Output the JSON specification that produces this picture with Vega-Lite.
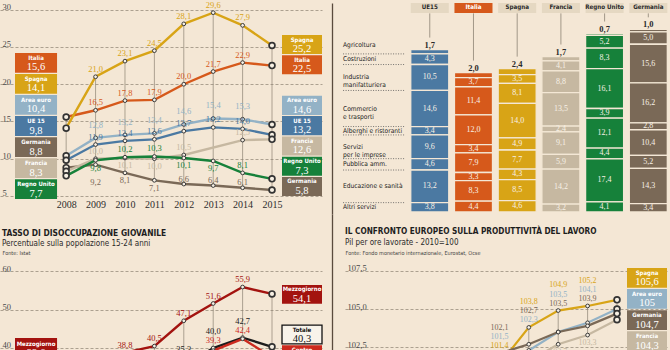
{
  "$schema": "https://vega.github.io/schema/vega-lite/v6.json",
  "background": "#f4e7d5",
  "padding": 0,
  "spacing": 0,
  "config": {
    "view": {"stroke": null},
    "locale": {"number": {"decimal": ",", "thousands": ".", "grouping": [3], "currency": ["", " €"]}},
    "text": {"font": "Liberation Serif"}
  },
  "datasets": {
    "disocc": [
      {"serie": "Italia", "anno": 2008, "v": 15.6}, {"serie": "Italia", "anno": 2009, "v": 16.5}, {"serie": "Italia", "anno": 2010, "v": 17.8}, {"serie": "Italia", "anno": 2011, "v": 17.9}, {"serie": "Italia", "anno": 2012, "v": 20.0}, {"serie": "Italia", "anno": 2013, "v": 21.7}, {"serie": "Italia", "anno": 2014, "v": 22.9}, {"serie": "Italia", "anno": 2015, "v": 22.5},
      {"serie": "Spagna", "anno": 2008, "v": 14.1}, {"serie": "Spagna", "anno": 2009, "v": 21.0}, {"serie": "Spagna", "anno": 2010, "v": 23.1}, {"serie": "Spagna", "anno": 2011, "v": 24.5}, {"serie": "Spagna", "anno": 2012, "v": 28.1}, {"serie": "Spagna", "anno": 2013, "v": 29.6}, {"serie": "Spagna", "anno": 2014, "v": 27.9}, {"serie": "Spagna", "anno": 2015, "v": 25.2},
      {"serie": "Area euro", "anno": 2008, "v": 10.4}, {"serie": "Area euro", "anno": 2009, "v": 12.8}, {"serie": "Area euro", "anno": 2010, "v": 13.2}, {"serie": "Area euro", "anno": 2011, "v": 13.4}, {"serie": "Area euro", "anno": 2012, "v": 14.6}, {"serie": "Area euro", "anno": 2013, "v": 15.4}, {"serie": "Area euro", "anno": 2014, "v": 15.3}, {"serie": "Area euro", "anno": 2015, "v": 14.6},
      {"serie": "UE 15", "anno": 2008, "v": 9.8}, {"serie": "UE 15", "anno": 2009, "v": 11.9}, {"serie": "UE 15", "anno": 2010, "v": 12.4}, {"serie": "UE 15", "anno": 2011, "v": 12.6}, {"serie": "UE 15", "anno": 2012, "v": 13.7}, {"serie": "UE 15", "anno": 2013, "v": 14.2}, {"serie": "UE 15", "anno": 2014, "v": 14.0}, {"serie": "UE 15", "anno": 2015, "v": 13.2},
      {"serie": "Germania", "anno": 2008, "v": 8.8}, {"serie": "Germania", "anno": 2009, "v": 9.2}, {"serie": "Germania", "anno": 2010, "v": 8.1}, {"serie": "Germania", "anno": 2011, "v": 7.1}, {"serie": "Germania", "anno": 2012, "v": 6.6}, {"serie": "Germania", "anno": 2013, "v": 6.4}, {"serie": "Germania", "anno": 2014, "v": 6.1}, {"serie": "Germania", "anno": 2015, "v": 5.8},
      {"serie": "Francia", "anno": 2008, "v": 8.3}, {"serie": "Francia", "anno": 2009, "v": 10.0}, {"serie": "Francia", "anno": 2010, "v": 10.1}, {"serie": "Francia", "anno": 2011, "v": 10.0}, {"serie": "Francia", "anno": 2012, "v": 10.5}, {"serie": "Francia", "anno": 2014, "v": 12.5}, {"serie": "Francia", "anno": 2015, "v": 12.6},
      {"serie": "Regno Unito", "anno": 2008, "v": 7.7}, {"serie": "Regno Unito", "anno": 2009, "v": 9.8}, {"serie": "Regno Unito", "anno": 2010, "v": 10.2}, {"serie": "Regno Unito", "anno": 2011, "v": 10.3}, {"serie": "Regno Unito", "anno": 2012, "v": 10.1}, {"serie": "Regno Unito", "anno": 2013, "v": 9.7}, {"serie": "Regno Unito", "anno": 2014, "v": 8.1}, {"serie": "Regno Unito", "anno": 2015, "v": 7.3}
    ],
    "giovani": [
      {"serie": "Mezzogiorno", "anno": 2008, "v": 33.6}, {"serie": "Mezzogiorno", "anno": 2009, "v": 36.0}, {"serie": "Mezzogiorno", "anno": 2010, "v": 38.8}, {"serie": "Mezzogiorno", "anno": 2011, "v": 40.5}, {"serie": "Mezzogiorno", "anno": 2012, "v": 47.1}, {"serie": "Mezzogiorno", "anno": 2013, "v": 51.6}, {"serie": "Mezzogiorno", "anno": 2014, "v": 55.9}, {"serie": "Mezzogiorno", "anno": 2015, "v": 54.1},
      {"serie": "Totale", "anno": 2008, "v": 21.2}, {"serie": "Totale", "anno": 2009, "v": 25.3}, {"serie": "Totale", "anno": 2010, "v": 27.9}, {"serie": "Totale", "anno": 2011, "v": 29.2}, {"serie": "Totale", "anno": 2012, "v": 35.3}, {"serie": "Totale", "anno": 2013, "v": 40.0}, {"serie": "Totale", "anno": 2014, "v": 42.7}, {"serie": "Totale", "anno": 2015, "v": 40.3},
      {"serie": "Centro", "anno": 2008, "v": 17.5}, {"serie": "Centro", "anno": 2009, "v": 21.6}, {"serie": "Centro", "anno": 2010, "v": 25.0}, {"serie": "Centro", "anno": 2011, "v": 27.0}, {"serie": "Centro", "anno": 2012, "v": 34.4}, {"serie": "Centro", "anno": 2013, "v": 39.3}, {"serie": "Centro", "anno": 2014, "v": 42.4}, {"serie": "Centro", "anno": 2015, "v": 37.6}
    ],
    "prod": [
      {"serie": "Spagna", "anno": 2010, "v": 100.0}, {"serie": "Spagna", "anno": 2011, "v": 101.4}, {"serie": "Spagna", "anno": 2012, "v": 103.8}, {"serie": "Spagna", "anno": 2013, "v": 104.9}, {"serie": "Spagna", "anno": 2014, "v": 105.2}, {"serie": "Spagna", "anno": 2015, "v": 105.6},
      {"serie": "Area euro", "anno": 2010, "v": 100.0}, {"serie": "Area euro", "anno": 2011, "v": 101.5}, {"serie": "Area euro", "anno": 2012, "v": 102.3}, {"serie": "Area euro", "anno": 2013, "v": 103.5}, {"serie": "Area euro", "anno": 2014, "v": 104.1}, {"serie": "Area euro", "anno": 2015, "v": 105.0},
      {"serie": "Germania", "anno": 2010, "v": 100.0}, {"serie": "Germania", "anno": 2011, "v": 102.1}, {"serie": "Germania", "anno": 2012, "v": 102.7}, {"serie": "Germania", "anno": 2013, "v": 103.5}, {"serie": "Germania", "anno": 2014, "v": 103.9}, {"serie": "Germania", "anno": 2015, "v": 104.7},
      {"serie": "Francia", "anno": 2010, "v": 100.0}, {"serie": "Francia", "anno": 2011, "v": 100.7}, {"serie": "Francia", "anno": 2012, "v": 101.6}, {"serie": "Francia", "anno": 2013, "v": 102.7}, {"serie": "Francia", "anno": 2014, "v": 103.3}, {"serie": "Francia", "anno": 2015, "v": 104.3}
    ],
    "settori": [
      {"serie": "UE15", "s": "Agricoltura", "k": 9, "v": 1.7}, {"serie": "UE15", "s": "Costruzioni", "k": 8, "v": 4.3}, {"serie": "UE15", "s": "Industria manifatturiera", "k": 7, "v": 10.5}, {"serie": "UE15", "s": "Commercio e trasporti", "k": 6, "v": 14.6}, {"serie": "UE15", "s": "Alberghi e ristoranti", "k": 5, "v": 3.4}, {"serie": "UE15", "s": "Servizi per le imprese", "k": 4, "v": 9.6}, {"serie": "UE15", "s": "Pubblica amm.", "k": 3, "v": 4.6}, {"serie": "UE15", "s": "Educazione e sanità", "k": 2, "v": 13.2}, {"serie": "UE15", "s": "Altri servizi", "k": 1, "v": 3.8},
      {"serie": "Italia", "s": "Agricoltura", "k": 9, "v": 2.0}, {"serie": "Italia", "s": "Costruzioni", "k": 8, "v": 3.7}, {"serie": "Italia", "s": "Industria manifatturiera", "k": 7, "v": 11.4}, {"serie": "Italia", "s": "Commercio e trasporti", "k": 6, "v": 12.0}, {"serie": "Italia", "s": "Alberghi e ristoranti", "k": 5, "v": 3.4}, {"serie": "Italia", "s": "Servizi per le imprese", "k": 4, "v": 7.9}, {"serie": "Italia", "s": "Pubblica amm.", "k": 3, "v": 3.3}, {"serie": "Italia", "s": "Educazione e sanità", "k": 2, "v": 8.3}, {"serie": "Italia", "s": "Altri servizi", "k": 1, "v": 4.4},
      {"serie": "Spagna", "s": "Agricoltura", "k": 9, "v": 2.4}, {"serie": "Spagna", "s": "Costruzioni", "k": 8, "v": 3.5}, {"serie": "Spagna", "s": "Industria manifatturiera", "k": 7, "v": 8.1}, {"serie": "Spagna", "s": "Commercio e trasporti", "k": 6, "v": 14.0}, {"serie": "Spagna", "s": "Alberghi e ristoranti", "k": 5, "v": 4.9}, {"serie": "Spagna", "s": "Servizi per le imprese", "k": 4, "v": 7.7}, {"serie": "Spagna", "s": "Pubblica amm.", "k": 3, "v": 4.3}, {"serie": "Spagna", "s": "Educazione e sanità", "k": 2, "v": 8.5}, {"serie": "Spagna", "s": "Altri servizi", "k": 1, "v": 4.6},
      {"serie": "Francia", "s": "Agricoltura", "k": 9, "v": 1.7}, {"serie": "Francia", "s": "Costruzioni", "k": 8, "v": 4.1}, {"serie": "Francia", "s": "Industria manifatturiera", "k": 7, "v": 8.8}, {"serie": "Francia", "s": "Commercio e trasporti", "k": 6, "v": 13.5}, {"serie": "Francia", "s": "Alberghi e ristoranti", "k": 5, "v": 2.4}, {"serie": "Francia", "s": "Servizi per le imprese", "k": 4, "v": 9.1}, {"serie": "Francia", "s": "Pubblica amm.", "k": 3, "v": 5.9}, {"serie": "Francia", "s": "Educazione e sanità", "k": 2, "v": 14.2}, {"serie": "Francia", "s": "Altri servizi", "k": 1, "v": 3.2},
      {"serie": "Regno Unito", "s": "Agricoltura", "k": 9, "v": 0.7}, {"serie": "Regno Unito", "s": "Costruzioni", "k": 8, "v": 5.2}, {"serie": "Regno Unito", "s": "Industria manifatturiera", "k": 7, "v": 8.3}, {"serie": "Regno Unito", "s": "Commercio e trasporti", "k": 6, "v": 16.1}, {"serie": "Regno Unito", "s": "Alberghi e ristoranti", "k": 5, "v": 3.9}, {"serie": "Regno Unito", "s": "Servizi per le imprese", "k": 4, "v": 12.1}, {"serie": "Regno Unito", "s": "Pubblica amm.", "k": 3, "v": 4.4}, {"serie": "Regno Unito", "s": "Educazione e sanità", "k": 2, "v": 17.4}, {"serie": "Regno Unito", "s": "Altri servizi", "k": 1, "v": 4.1},
      {"serie": "Germania", "s": "Agricoltura", "k": 9, "v": 1.0}, {"serie": "Germania", "s": "Costruzioni", "k": 8, "v": 5.0}, {"serie": "Germania", "s": "Industria manifatturiera", "k": 7, "v": 15.6}, {"serie": "Germania", "s": "Commercio e trasporti", "k": 6, "v": 16.2}, {"serie": "Germania", "s": "Alberghi e ristoranti", "k": 5, "v": 2.8}, {"serie": "Germania", "s": "Servizi per le imprese", "k": 4, "v": 10.4}, {"serie": "Germania", "s": "Pubblica amm.", "k": 3, "v": 5.2}, {"serie": "Germania", "s": "Educazione e sanità", "k": 2, "v": 14.3}, {"serie": "Germania", "s": "Altri servizi", "k": 1, "v": 3.4}
    ]
  },
  "vconcat": [
    {
      "spacing": 10,
      "hconcat": [
        {
          "width": 322, "height": 211,
          "data": {"name": "disocc"},
          "resolve": {"scale": {"y": "independent"}},
          "layer": [
            {
              "layer": [
                {
                  "mark": {"type": "rule", "color": "#8d8373", "strokeWidth": 0.7},
                  "encoding": {
                    "x": {"field": "anno", "type": "quantitative", "scale": {"domain": [2005.75, 2016.7], "nice": false, "zero": false},
                      "axis": {"values": [2008, 2009, 2010, 2011, 2012, 2013, 2014, 2015], "format": "d", "domain": false, "ticks": false, "tickSize": 0, "grid": false, "labelPadding": -7, "labelBaseline": "alphabetic", "labelFont": "Liberation Serif", "labelFontSize": 10, "labelColor": "#2d2d2d", "labelFlush": false, "title": null}},
                    "y": {"aggregate": "min", "field": "v", "type": "quantitative", "scale": {"domain": [2.58, 30.9], "nice": false, "zero": false},
                      "axis": {"values": [5, 10, 15, 20, 25, 30], "grid": true, "gridDash": [3, 2], "gridColor": "#8d8373", "gridWidth": 0.7, "domain": false, "ticks": false, "tickSize": 0, "labelAlign": "left", "labelPadding": -2, "labelBaseline": "alphabetic", "labelFont": "Liberation Serif", "labelFontSize": 8.5, "labelColor": "#4a4a4a", "labelFlush": false, "title": null}},
                    "y2": {"aggregate": "max", "field": "v"}
                  }
                },
                {
                  "mark": {"type": "line", "strokeWidth": 2.4},
                  "encoding": {
                    "x": {"field": "anno", "type": "quantitative"},
                    "y": {"field": "v", "type": "quantitative"},
                    "color": {"field": "serie", "type": "nominal", "legend": null, "scale": {"domain": ["Italia","Spagna","Area euro","UE 15","UE15","Germania","Francia","Regno Unito","Mezzogiorno","Totale","Centro"], "range": ["#d6591b","#d8a416","#93b2c6","#4b79a2","#4b79a2","#7a6957","#c6b8a1","#16813a","#a3130f","#1c1c1c","#cc2a1e"]}}
                  }
                },
                {
                  "mark": {"type": "point", "shape": "circle", "filled": true, "fill": "#f7f0e4", "stroke": "#3b3b3b", "strokeWidth": 1, "size": 14, "opacity": 1},
                  "encoding": {"x": {"field": "anno", "type": "quantitative"}, "y": {"field": "v", "type": "quantitative"}}
                },
                {
                  "transform": [{"filter": "datum.anno === 2008 || datum.anno === 2015"}],
                  "mark": {"type": "point", "shape": "circle", "filled": true, "fill": "#f7f0e4", "stroke": "#333333", "strokeWidth": 1.7, "size": 34, "opacity": 1},
                  "encoding": {"x": {"field": "anno", "type": "quantitative"}, "y": {"field": "v", "type": "quantitative"}}
                },
                {
                  "transform": [{"filter": "datum.anno > 2008 && datum.anno < 2015 && datum.serie !== 'Area euro' && datum.serie !== 'Germania' && !((datum.serie === 'Regno Unito' && (datum.anno === 2009 || datum.anno === 2012 || datum.anno === 2013)) || (datum.serie === 'Francia' && (datum.anno === 2010 || datum.anno === 2011)))"}],
                  "mark": {"type": "text", "font": "Liberation Serif", "fontSize": 8.5, "baseline": "alphabetic", "dy": -5},
                  "encoding": {
                    "x": {"field": "anno", "type": "quantitative"}, "y": {"field": "v", "type": "quantitative"},
                    "text": {"field": "v", "type": "quantitative", "format": ".1f"},
                    "color": {"field": "serie", "type": "nominal", "legend": null, "scale": {"domain": ["Italia","Spagna","Area euro","UE 15","UE15","Germania","Francia","Regno Unito","Mezzogiorno","Totale","Centro"], "range": ["#d6591b","#d8a416","#93b2c6","#4b79a2","#4b79a2","#7a6957","#c6b8a1","#16813a","#a3130f","#1c1c1c","#cc2a1e"]}}
                  }
                },
                {
                  "transform": [{"filter": "datum.anno >= 2012 && datum.anno < 2015 && datum.serie === 'Germania'"}],
                  "mark": {"type": "text", "font": "Liberation Serif", "fontSize": 8.5, "baseline": "alphabetic", "dy": -2.5},
                  "encoding": {
                    "x": {"field": "anno", "type": "quantitative"}, "y": {"field": "v", "type": "quantitative"},
                    "text": {"field": "v", "type": "quantitative", "format": ".1f"},
                    "color": {"field": "serie", "type": "nominal", "legend": null, "scale": {"domain": ["Italia","Spagna","Area euro","UE 15","UE15","Germania","Francia","Regno Unito","Mezzogiorno","Totale","Centro"], "range": ["#d6591b","#d8a416","#93b2c6","#4b79a2","#4b79a2","#7a6957","#c6b8a1","#16813a","#a3130f","#1c1c1c","#cc2a1e"]}}
                  }
                },
                {
                  "transform": [{"filter": "datum.anno > 2008 && datum.anno < 2015 && datum.serie === 'Area euro'"}],
                  "mark": {"type": "text", "font": "Liberation Serif", "fontSize": 8.5, "baseline": "alphabetic", "dy": -10},
                  "encoding": {
                    "x": {"field": "anno", "type": "quantitative"}, "y": {"field": "v", "type": "quantitative"},
                    "text": {"field": "v", "type": "quantitative", "format": ".1f"},
                    "color": {"field": "serie", "type": "nominal", "legend": null, "scale": {"domain": ["Italia","Spagna","Area euro","UE 15","UE15","Germania","Francia","Regno Unito","Mezzogiorno","Totale","Centro"], "range": ["#d6591b","#d8a416","#93b2c6","#4b79a2","#4b79a2","#7a6957","#c6b8a1","#16813a","#a3130f","#1c1c1c","#cc2a1e"]}}
                  }
                },
                {
                  "transform": [{"filter": "datum.anno > 2008 && datum.anno < 2015 && ((datum.serie === 'Germania' && datum.anno > 2009 && datum.anno < 2012) || (datum.serie === 'Regno Unito' && (datum.anno === 2009 || datum.anno === 2012 || datum.anno === 2013)) || (datum.serie === 'Francia' && (datum.anno === 2010 || datum.anno === 2011)))"}],
                  "mark": {"type": "text", "font": "Liberation Serif", "fontSize": 8.5, "baseline": "top", "dy": 3.5},
                  "encoding": {
                    "x": {"field": "anno", "type": "quantitative"}, "y": {"field": "v", "type": "quantitative"},
                    "text": {"field": "v", "type": "quantitative", "format": ".1f"},
                    "color": {"field": "serie", "type": "nominal", "legend": null, "scale": {"domain": ["Italia","Spagna","Area euro","UE 15","UE15","Germania","Francia","Regno Unito","Mezzogiorno","Totale","Centro"], "range": ["#d6591b","#d8a416","#93b2c6","#4b79a2","#4b79a2","#7a6957","#c6b8a1","#16813a","#a3130f","#1c1c1c","#cc2a1e"]}}
                  }
                },
                {
                  "transform": [{"filter": "datum.anno === 2009 && datum.serie === 'Germania'"}],
                  "mark": {"type": "text", "font": "Liberation Serif", "fontSize": 8.5, "baseline": "top", "dy": 13},
                  "encoding": {
                    "x": {"field": "anno", "type": "quantitative"}, "y": {"field": "v", "type": "quantitative"},
                    "text": {"field": "v", "type": "quantitative", "format": ".1f"},
                    "color": {"field": "serie", "type": "nominal", "legend": null, "scale": {"domain": ["Italia","Spagna","Area euro","UE 15","UE15","Germania","Francia","Regno Unito","Mezzogiorno","Totale","Centro"], "range": ["#d6591b","#d8a416","#93b2c6","#4b79a2","#4b79a2","#7a6957","#c6b8a1","#16813a","#a3130f","#1c1c1c","#cc2a1e"]}}
                  }
                }
              ]
            },
            {
              "transform": [{"filter": "datum.anno === 2008"}],
              "encoding": {"y": {"field": "serie", "type": "nominal", "axis": null, "scale": {"domain": ["Italia", "Spagna", "Area euro", "UE 15", "Germania", "Francia", "Regno Unito"], "range": [50, 196], "paddingInner": 0.06, "paddingOuter": 0}}},
              "layer": [
                {
                  "mark": {"type": "rect"},
                  "encoding": {
                    "x": {"datum": 2006.26}, "x2": {"datum": 2007.69},
                    "color": {"field": "serie", "type": "nominal", "legend": null, "scale": {"domain": ["Italia","Spagna","Area euro","UE 15","UE15","Germania","Francia","Regno Unito","Mezzogiorno","Totale","Centro"], "range": ["#d6591b","#d8a416","#93b2c6","#4b79a2","#4b79a2","#7a6957","#c6b8a1","#16813a","#a3130f","#1c1c1c","#cc2a1e"]}}
                  }
                },
                {
                  "mark": {"type": "text", "font": "DejaVu Sans Condensed, sans-serif", "fontWeight": "bold", "fontSize": 6, "color": "#ffffff", "baseline": "middle", "dy": -5},
                  "encoding": {"x": {"datum": 2006.975}, "text": {"field": "serie", "type": "nominal"}}
                },
                {
                  "mark": {"type": "text", "font": "Liberation Serif", "fontSize": 10.5, "color": "#ffffff", "baseline": "middle", "dy": 4.5},
                  "encoding": {"x": {"datum": 2006.975}, "text": {"field": "v", "type": "quantitative", "format": ".1f"}}
                }
              ]
            },
            {
              "transform": [{"filter": "datum.anno === 2015"}],
              "encoding": {"y": {"field": "serie", "type": "nominal", "axis": null, "scale": {"domain": ["Spagna", "Italia", " ", "Area euro", "UE 15", "Francia", "Regno Unito", "Germania"], "range": [32, 193], "paddingInner": 0.06, "paddingOuter": 0}}},
              "layer": [
                {
                  "mark": {"type": "rect"},
                  "encoding": {
                    "x": {"datum": 2015.34}, "x2": {"datum": 2016.7},
                    "color": {"field": "serie", "type": "nominal", "legend": null, "scale": {"domain": ["Italia","Spagna","Area euro","UE 15","UE15","Germania","Francia","Regno Unito","Mezzogiorno","Totale","Centro"], "range": ["#d6591b","#d8a416","#93b2c6","#4b79a2","#4b79a2","#7a6957","#c6b8a1","#16813a","#a3130f","#1c1c1c","#cc2a1e"]}}
                  }
                },
                {
                  "mark": {"type": "text", "font": "DejaVu Sans Condensed, sans-serif", "fontWeight": "bold", "fontSize": 6, "color": "#ffffff", "baseline": "middle", "dy": -5},
                  "encoding": {"x": {"datum": 2016.02}, "text": {"field": "serie", "type": "nominal"}}
                },
                {
                  "mark": {"type": "text", "font": "Liberation Serif", "fontSize": 10.5, "color": "#ffffff", "baseline": "middle", "dy": 4.5},
                  "encoding": {"x": {"datum": 2016.02}, "text": {"field": "v", "type": "quantitative", "format": ".1f"}}
                }
              ]
            }
          ]
        },
        {
          "width": 330, "height": 211,
          "data": {"name": "settori"},
          "transform": [
            {"stack": "v", "groupby": ["serie"], "sort": [{"field": "k", "order": "ascending"}], "as": ["v0", "v1"]},
            {"calculate": "datum.k === 9 ? datum.v1 + 2 : (datum.v0 + datum.v1) / 2", "as": "ym"},
            {"calculate": "datum.v1 + 4.9", "as": "ct"}
          ],
          "encoding": {
            "x": {"field": "serie", "type": "nominal", "axis": null, "scale": {"domain": ["Settore", "UE15", "Italia", "Spagna", "Francia", "Regno Unito", "Germania"], "paddingInner": 0.13, "paddingOuter": 0.34, "align": 0.91}}
          },
          "layer": [
            {
              "mark": {"type": "bar", "stroke": "#f4e7d5", "strokeWidth": 1.3},
              "encoding": {
                "y": {"field": "v0", "type": "quantitative", "scale": {"domain": [-0.8, 84.6], "nice": false, "zero": false},
                  "axis": {"orient": "left", "offset": 8, "domain": true, "domainColor": "#5a4b3d", "domainWidth": 1.3, "labels": false, "ticks": false, "grid": false, "title": null}},
                "y2": {"field": "v1"},
                "color": {"field": "serie", "type": "nominal", "legend": null, "scale": {"domain": ["Italia","Spagna","Area euro","UE 15","UE15","Germania","Francia","Regno Unito","Mezzogiorno","Totale","Centro"], "range": ["#d6591b","#d8a416","#93b2c6","#4b79a2","#4b79a2","#7a6957","#c6b8a1","#16813a","#a3130f","#1c1c1c","#cc2a1e"]}}
              }
            },
            {
              "transform": [{"filter": "datum.k !== 9"}],
              "mark": {"type": "text", "font": "Liberation Serif", "fontSize": 8, "color": "#f8f1e6", "baseline": "middle"},
              "encoding": {"y": {"field": "ym", "type": "quantitative"}, "text": {"field": "v", "type": "quantitative", "format": ".1f"}}
            },
            {
              "transform": [{"filter": "datum.k === 9"}],
              "mark": {"type": "text", "font": "Liberation Serif", "fontSize": 8.5, "fontWeight": "bold", "color": "#2a2a2a", "baseline": "middle"},
              "encoding": {"y": {"field": "ym", "type": "quantitative"}, "text": {"field": "v", "type": "quantitative", "format": ".1f"}}
            },
            {
              "transform": [{"filter": "datum.k === 9"}],
              "mark": {"type": "rect"},
              "encoding": {
                "y": {"datum": 84.6}, "y2": {"datum": 80.55},
                "color": {"condition": {"test": "datum.serie === 'Italia'", "value": "#d6591b"}, "value": "#e5d8c2"}
              }
            },
            {
              "transform": [{"filter": "datum.k === 9"}],
              "mark": {"type": "text", "font": "DejaVu Sans Condensed, sans-serif", "fontWeight": "bold", "fontSize": 6.2, "baseline": "middle"},
              "encoding": {
                "y": {"datum": 82.9},
                "text": {"field": "serie", "type": "nominal"},
                "color": {"condition": {"test": "datum.serie === 'Italia'", "value": "#ffffff"}, "value": "#2a2a2a"}
              }
            },
            {
              "transform": [{"filter": "datum.k === 9"}],
              "mark": {"type": "rule", "color": "#8d8373", "strokeWidth": 0.8},
              "encoding": {"y": {"field": "ct", "type": "quantitative"}, "y2": {"datum": 80.4}}
            },
            {
              "transform": [
                {"filter": "datum.serie === 'UE15'"},
                {"calculate": "replace(datum.s, regexp(' (manifatturiera|e trasporti|per le imprese)$'), '\\n$1')", "as": "lab"}
              ],
              "mark": {"type": "text", "align": "left", "baseline": "middle", "dx": -43, "font": "DejaVu Sans Condensed, sans-serif", "fontSize": 6.6, "color": "#222222", "lineBreak": "\n", "lineHeight": 8},
              "encoding": {"x": {"datum": "Settore"}, "y": {"field": "ym", "type": "quantitative"}, "text": {"field": "lab", "type": "nominal"}}
            },
            {
              "transform": [{"filter": "datum.serie === 'UE15' && datum.k <= 8"}],
              "mark": {"type": "rule", "color": "#555555", "strokeWidth": 0.8, "strokeDash": [1, 1.5]},
              "encoding": {"x": {"datum": "Settore", "bandPosition": -0.63}, "x2": {"datum": "Settore", "bandPosition": 1}, "y": {"field": "v1", "type": "quantitative"}}
            }
          ]
        }
      ]
    },
    {
      "spacing": 13,
      "hconcat": [
        {
          "width": 322, "height": 200,
          "data": {"name": "giovani"},
          "title": {"text": "TASSO DI DISOCCUPAZIONE GIOVANILE", "subtitle": "Percentuale sulla popolazione 15-24 anni", "anchor": "start", "frame": "group", "offset": -34, "dx": 2, "font": "DejaVu Sans Condensed, sans-serif", "fontSize": 8.4, "fontWeight": "bold", "color": "#1e1e1e", "subtitleFont": "DejaVu Sans Condensed, sans-serif", "subtitleFontSize": 8, "subtitleColor": "#2a2a2a", "subtitlePadding": 3},
          "resolve": {"scale": {"y": "independent"}},
          "layer": [
            {
              "resolve": {"axis": {"y": "independent"}},
              "layer": [
                {
                  "mark": {"type": "rule", "color": "#8d8373", "strokeWidth": 0.7},
                  "encoding": {
                    "x": {"field": "anno", "type": "quantitative", "scale": {"domain": [2005.75, 2016.7], "nice": false, "zero": false}, "axis": null},
                    "y": {"aggregate": "min", "field": "v", "type": "quantitative", "scale": {"domain": [22.79, 74.94], "nice": false, "zero": false},
                      "axis": {"values": [40, 50, 60], "format": "d", "grid": true, "gridDash": [3, 2], "gridColor": "#8d8373", "gridWidth": 0.7, "domain": false, "ticks": false, "tickSize": 0, "labelAlign": "left", "labelPadding": -2, "labelBaseline": "alphabetic", "labelFont": "Liberation Serif", "labelFontSize": 8.5, "labelColor": "#4a4a4a", "labelFlush": false,
                        "title": "Fonte: Istat", "titleAngle": 0, "titleAlign": "left", "titleBaseline": "alphabetic", "titleX": 2, "titleY": 40, "titleFont": "DejaVu Sans Condensed, sans-serif", "titleFontSize": 5.5, "titleFontWeight": "normal", "titleColor": "#444444"}},
                    "y2": {"aggregate": "max", "field": "v"}
                  }
                },
                {
                  "mark": {"type": "line", "strokeWidth": 2.4},
                  "encoding": {
                    "x": {"field": "anno", "type": "quantitative", "axis": null},
                    "y": {"field": "v", "type": "quantitative", "axis": {"orient": "right", "offset": 10, "domain": true, "domainColor": "#5a4b3d", "domainWidth": 1.3, "labels": false, "ticks": false, "grid": false, "title": null}},
                    "color": {"field": "serie", "type": "nominal", "legend": null, "scale": {"domain": ["Italia","Spagna","Area euro","UE 15","UE15","Germania","Francia","Regno Unito","Mezzogiorno","Totale","Centro"], "range": ["#d6591b","#d8a416","#93b2c6","#4b79a2","#4b79a2","#7a6957","#c6b8a1","#16813a","#a3130f","#1c1c1c","#cc2a1e"]}}
                  }
                },
                {
                  "mark": {"type": "point", "shape": "circle", "filled": true, "fill": "#f7f0e4", "stroke": "#3b3b3b", "strokeWidth": 1, "size": 14, "opacity": 1},
                  "encoding": {"x": {"field": "anno", "type": "quantitative", "axis": null}, "y": {"field": "v", "type": "quantitative", "axis": null}}
                },
                {
                  "transform": [{"filter": "datum.anno === 2008 || datum.anno === 2015"}],
                  "mark": {"type": "point", "shape": "circle", "filled": true, "fill": "#f7f0e4", "stroke": "#333333", "strokeWidth": 1.7, "size": 34, "opacity": 1},
                  "encoding": {"x": {"field": "anno", "type": "quantitative", "axis": null}, "y": {"field": "v", "type": "quantitative", "axis": null}}
                },
                {
                  "transform": [{"filter": "datum.serie === 'Mezzogiorno' && datum.anno > 2008 && datum.anno < 2015"}],
                  "mark": {"type": "text", "font": "Liberation Serif", "fontSize": 8.5, "baseline": "alphabetic", "dy": -5},
                  "encoding": {
                    "x": {"field": "anno", "type": "quantitative", "axis": null}, "y": {"field": "v", "type": "quantitative", "axis": null},
                    "text": {"field": "v", "type": "quantitative", "format": ".1f"},
                    "color": {"field": "serie", "type": "nominal", "legend": null, "scale": {"domain": ["Italia","Spagna","Area euro","UE 15","UE15","Germania","Francia","Regno Unito","Mezzogiorno","Totale","Centro"], "range": ["#d6591b","#d8a416","#93b2c6","#4b79a2","#4b79a2","#7a6957","#c6b8a1","#16813a","#a3130f","#1c1c1c","#cc2a1e"]}}
                  }
                },
                {
                  "transform": [
                    {"filter": "datum.serie !== 'Mezzogiorno' && datum.anno > 2008 && datum.anno < 2015"},
                    {"joinaggregate": [{"op": "max", "field": "v", "as": "vmax"}], "groupby": ["anno"]},
                    {"window": [{"op": "row_number", "as": "rk"}], "groupby": ["anno"], "sort": [{"field": "v", "order": "descending"}]},
                    {"calculate": "datum.vmax + (datum.rk === 1 ? 4.43 : 2.09)", "as": "ly"}
                  ],
                  "mark": {"type": "text", "font": "Liberation Serif", "fontSize": 8.5, "baseline": "middle"},
                  "encoding": {
                    "x": {"field": "anno", "type": "quantitative", "axis": null}, "y": {"field": "ly", "type": "quantitative", "axis": null},
                    "text": {"field": "v", "type": "quantitative", "format": ".1f"},
                    "color": {"field": "serie", "type": "nominal", "legend": null, "scale": {"domain": ["Italia","Spagna","Area euro","UE 15","UE15","Germania","Francia","Regno Unito","Mezzogiorno","Totale","Centro"], "range": ["#d6591b","#d8a416","#93b2c6","#4b79a2","#4b79a2","#7a6957","#c6b8a1","#16813a","#a3130f","#1c1c1c","#cc2a1e"]}}
                  }
                }
              ]
            },
            {
              "transform": [{"filter": "datum.anno === 2008 && datum.serie === 'Mezzogiorno'"}],
              "encoding": {"y": {"field": "serie", "type": "nominal", "axis": null, "scale": {"domain": ["Mezzogiorno"], "range": [124, 145], "paddingInner": 0, "paddingOuter": 0}}},
              "layer": [
                {
                  "mark": {"type": "rect"},
                  "encoding": {
                    "x": {"datum": 2006.26, "axis": null}, "x2": {"datum": 2007.69},
                    "color": {"field": "serie", "type": "nominal", "legend": null, "scale": {"domain": ["Italia","Spagna","Area euro","UE 15","UE15","Germania","Francia","Regno Unito","Mezzogiorno","Totale","Centro"], "range": ["#d6591b","#d8a416","#93b2c6","#4b79a2","#4b79a2","#7a6957","#c6b8a1","#16813a","#a3130f","#1c1c1c","#cc2a1e"]}}
                  }
                },
                {
                  "mark": {"type": "text", "font": "DejaVu Sans Condensed, sans-serif", "fontWeight": "bold", "fontSize": 6, "color": "#ffffff", "baseline": "middle", "dy": -5},
                  "encoding": {"x": {"datum": 2006.975, "axis": null}, "text": {"field": "serie", "type": "nominal"}}
                },
                {
                  "mark": {"type": "text", "font": "Liberation Serif", "fontSize": 10.5, "color": "#ffffff", "baseline": "middle", "dy": 4.5},
                  "encoding": {"x": {"datum": 2006.975, "axis": null}, "text": {"field": "v", "type": "quantitative", "format": ".1f"}}
                }
              ]
            },
            {
              "transform": [{"filter": "datum.anno === 2015"}],
              "encoding": {"y": {"field": "serie", "type": "nominal", "axis": null, "scale": {"domain": ["Mezzogiorno", " ", "Totale", "Centro"], "range": [71, 150], "paddingInner": 0.06, "paddingOuter": 0}}},
              "layer": [
                {
                  "mark": {"type": "rect"},
                  "encoding": {
                    "x": {"datum": 2015.34, "axis": null}, "x2": {"datum": 2016.7},
                    "color": {"condition": {"test": "datum.serie === 'Totale'", "value": "#f8f3ea"}, "field": "serie", "type": "nominal", "legend": null, "scale": {"domain": ["Italia","Spagna","Area euro","UE 15","UE15","Germania","Francia","Regno Unito","Mezzogiorno","Totale","Centro"], "range": ["#d6591b","#d8a416","#93b2c6","#4b79a2","#4b79a2","#7a6957","#c6b8a1","#16813a","#a3130f","#1c1c1c","#cc2a1e"]}}
                  }
                },
                {
                  "transform": [{"filter": "datum.serie === 'Totale'"}],
                  "mark": {"type": "rect", "filled": false, "stroke": "#111111", "strokeWidth": 1.3},
                  "encoding": {"x": {"datum": 2015.34, "axis": null}, "x2": {"datum": 2016.7}}
                },
                {
                  "mark": {"type": "text", "font": "DejaVu Sans Condensed, sans-serif", "fontWeight": "bold", "fontSize": 6, "baseline": "middle", "dy": -5},
                  "encoding": {"x": {"datum": 2016.02, "axis": null}, "text": {"field": "serie", "type": "nominal"}, "color": {"condition": {"test": "datum.serie === 'Totale'", "value": "#111111"}, "value": "#ffffff"}}
                },
                {
                  "mark": {"type": "text", "font": "Liberation Serif", "fontSize": 10.5, "baseline": "middle", "dy": 4.5},
                  "encoding": {"x": {"datum": 2016.02, "axis": null}, "text": {"field": "v", "type": "quantitative", "format": ".1f"}, "color": {"condition": {"test": "datum.serie === 'Totale'", "value": "#111111"}, "value": "#ffffff"}}
                }
              ]
            }
          ]
        },
        {
          "width": 322, "height": 200,
          "data": {"name": "prod"},
          "title": {"text": "IL CONFRONTO EUROPEO SULLA PRODUTTIVITÀ DEL LAVORO", "subtitle": "Pil per ore lavorate - 2010=100", "anchor": "start", "frame": "group", "offset": -34, "font": "DejaVu Sans Condensed, sans-serif", "fontSize": 8.2, "fontWeight": "bold", "color": "#1e1e1e", "subtitleFont": "DejaVu Sans Condensed, sans-serif", "subtitleFontSize": 8, "subtitleColor": "#2a2a2a", "subtitlePadding": 3},
          "resolve": {"scale": {"y": "independent"}},
          "layer": [
            {
              "layer": [
                {
                  "mark": {"type": "rule", "color": "#8d8373", "strokeWidth": 0.7},
                  "encoding": {
                    "x": {"field": "anno", "type": "quantitative", "scale": {"domain": [2005.75, 2016.7], "nice": false, "zero": false}, "axis": null},
                    "y": {"aggregate": "min", "field": "v", "type": "quantitative", "scale": {"domain": [98.15, 111.2], "nice": false, "zero": false},
                      "axis": {"values": [102.5, 105, 107.5], "format": ".1f", "grid": true, "gridDash": [3, 2], "gridColor": "#8d8373", "gridWidth": 0.7, "domain": false, "ticks": false, "tickSize": 0, "labelAlign": "left", "labelPadding": -2, "labelBaseline": "alphabetic", "labelFont": "Liberation Serif", "labelFontSize": 8.5, "labelColor": "#4a4a4a", "labelFlush": false,
                        "title": "Fonte: Fondo monetario internazionale, Eurostat, Ocse", "titleAngle": 0, "titleAlign": "left", "titleBaseline": "alphabetic", "titleX": 0, "titleY": 40, "titleFont": "DejaVu Sans Condensed, sans-serif", "titleFontSize": 5.5, "titleFontWeight": "normal", "titleColor": "#444444"}},
                    "y2": {"aggregate": "max", "field": "v"}
                  }
                },
                {
                  "mark": {"type": "line", "strokeWidth": 2.2},
                  "encoding": {
                    "x": {"field": "anno", "type": "quantitative", "axis": null},
                    "y": {"field": "v", "type": "quantitative"},
                    "color": {"field": "serie", "type": "nominal", "legend": null, "scale": {"domain": ["Italia","Spagna","Area euro","UE 15","UE15","Germania","Francia","Regno Unito","Mezzogiorno","Totale","Centro"], "range": ["#d6591b","#d8a416","#93b2c6","#4b79a2","#4b79a2","#7a6957","#c6b8a1","#16813a","#a3130f","#1c1c1c","#cc2a1e"]}}
                  }
                },
                {
                  "mark": {"type": "point", "shape": "circle", "filled": true, "fill": "#f7f0e4", "stroke": "#3b3b3b", "strokeWidth": 1, "size": 14, "opacity": 1},
                  "encoding": {"x": {"field": "anno", "type": "quantitative", "axis": null}, "y": {"field": "v", "type": "quantitative"}}
                },
                {
                  "transform": [{"filter": "datum.anno === 2015"}],
                  "mark": {"type": "point", "shape": "circle", "filled": true, "fill": "#f7f0e4", "stroke": "#333333", "strokeWidth": 1.7, "size": 34, "opacity": 1},
                  "encoding": {"x": {"field": "anno", "type": "quantitative", "axis": null}, "y": {"field": "v", "type": "quantitative"}}
                },
                {
                  "transform": [
                    {"filter": "datum.serie !== 'Francia' && datum.anno > 2010 && datum.anno < 2015"},
                    {"joinaggregate": [{"op": "max", "field": "v", "as": "vmax"}], "groupby": ["anno"]},
                    {"window": [{"op": "row_number", "as": "rk"}], "groupby": ["anno"], "sort": [{"field": "v", "order": "descending"}]},
                    {"calculate": "datum.vmax + 0.457 + (3 - datum.rk) * 0.59", "as": "ly"}
                  ],
                  "mark": {"type": "text", "font": "Liberation Serif", "fontSize": 8, "baseline": "middle"},
                  "encoding": {
                    "x": {"field": "anno", "type": "quantitative", "axis": null}, "y": {"field": "ly", "type": "quantitative"},
                    "text": {"field": "v", "type": "quantitative", "format": ".1f"},
                    "color": {"field": "serie", "type": "nominal", "legend": null, "scale": {"domain": ["Italia","Spagna","Area euro","UE 15","UE15","Germania","Francia","Regno Unito","Mezzogiorno","Totale","Centro"], "range": ["#d6591b","#d8a416","#93b2c6","#4b79a2","#4b79a2","#7a6957","#c6b8a1","#16813a","#a3130f","#1c1c1c","#cc2a1e"]}}
                  }
                },
                {
                  "transform": [{"filter": "datum.serie === 'Francia' && datum.anno > 2010 && datum.anno < 2015"}],
                  "mark": {"type": "text", "font": "Liberation Serif", "fontSize": 8, "baseline": "top", "dy": 4},
                  "encoding": {
                    "x": {"field": "anno", "type": "quantitative", "axis": null}, "y": {"field": "v", "type": "quantitative"},
                    "text": {"field": "v", "type": "quantitative", "format": ".1f"},
                    "color": {"field": "serie", "type": "nominal", "legend": null, "scale": {"domain": ["Italia","Spagna","Area euro","UE 15","UE15","Germania","Francia","Regno Unito","Mezzogiorno","Totale","Centro"], "range": ["#d6591b","#d8a416","#93b2c6","#4b79a2","#4b79a2","#7a6957","#c6b8a1","#16813a","#a3130f","#1c1c1c","#cc2a1e"]}}
                  }
                }
              ]
            },
            {
              "transform": [{"filter": "datum.anno === 2015"}],
              "encoding": {"y": {"field": "serie", "type": "nominal", "axis": null, "scale": {"domain": ["Spagna", "Area euro", "Germania", "Francia"], "range": [54, 137], "paddingInner": 0.06, "paddingOuter": 0}}},
              "layer": [
                {
                  "mark": {"type": "rect"},
                  "encoding": {
                    "x": {"datum": 2015.34, "axis": null}, "x2": {"datum": 2016.7},
                    "color": {"field": "serie", "type": "nominal", "legend": null, "scale": {"domain": ["Italia","Spagna","Area euro","UE 15","UE15","Germania","Francia","Regno Unito","Mezzogiorno","Totale","Centro"], "range": ["#d6591b","#d8a416","#93b2c6","#4b79a2","#4b79a2","#7a6957","#c6b8a1","#16813a","#a3130f","#1c1c1c","#cc2a1e"]}}
                  }
                },
                {
                  "mark": {"type": "text", "font": "DejaVu Sans Condensed, sans-serif", "fontWeight": "bold", "fontSize": 6, "color": "#ffffff", "baseline": "middle", "dy": -5},
                  "encoding": {"x": {"datum": 2016.02, "axis": null}, "text": {"field": "serie", "type": "nominal"}}
                },
                {
                  "mark": {"type": "text", "font": "Liberation Serif", "fontSize": 10.5, "color": "#ffffff", "baseline": "middle", "dy": 4.5},
                  "encoding": {"x": {"datum": 2016.02, "axis": null}, "text": {"field": "v", "type": "quantitative", "format": ".1~f"}}
                }
              ]
            }
          ]
        }
      ]
    }
  ]
}
